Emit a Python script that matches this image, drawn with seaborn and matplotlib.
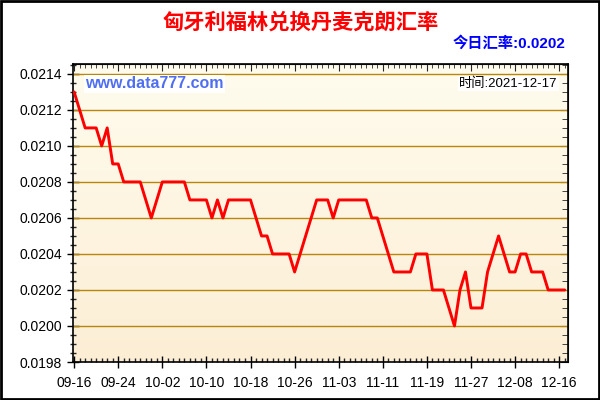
import matplotlib
matplotlib.use('Agg')
import matplotlib.pyplot as plt
import numpy as np
import pandas as pd
import seaborn as sb
from matplotlib.ticker import MultipleLocator, FixedLocator
from matplotlib.patches import Rectangle

# exchange rate HUF -> DKK, one value per day
rates = [0.0213, 0.0212, 0.0211, 0.0211, 0.0211, 0.0210, 0.0211, 0.0209, 0.0209, 0.0208,
         0.0208, 0.0208, 0.0208, 0.0207, 0.0206, 0.0207, 0.0208, 0.0208, 0.0208, 0.0208,
         0.0208, 0.0207, 0.0207, 0.0207, 0.0207, 0.0206, 0.0207, 0.0206, 0.0207, 0.0207,
         0.0207, 0.0207, 0.0207, 0.0206, 0.0205, 0.0205, 0.0204, 0.0204, 0.0204, 0.0204,
         0.0203, 0.0204, 0.0205, 0.0206, 0.0207, 0.0207, 0.0207, 0.0206, 0.0207, 0.0207,
         0.0207, 0.0207, 0.0207, 0.0207, 0.0206, 0.0206, 0.0205, 0.0204, 0.0203, 0.0203,
         0.0203, 0.0203, 0.0204, 0.0204, 0.0204, 0.0202, 0.0202, 0.0202, 0.0201, 0.0200,
         0.0202, 0.0203, 0.0201, 0.0201, 0.0201, 0.0203, 0.0204, 0.0205, 0.0204, 0.0203,
         0.0203, 0.0204, 0.0204, 0.0203, 0.0203, 0.0203, 0.0202, 0.0202, 0.0202, 0.0202]
date_labels = ['09-16', '09-24', '10-02', '10-10', '10-18', '10-26',
               '11-03', '11-11', '11-19', '11-27', '12-08', '12-16']
y_ticks = [0.0198, 0.0200, 0.0202, 0.0204, 0.0206, 0.0208, 0.0210, 0.0212, 0.0214]

title = '匈牙利福林兑换丹麦克朗汇率'
today_rate = '今日汇率:0.0202'
site = 'www.data777.com'
stamp = '时间:2021-12-17'

df = pd.DataFrame({'idx': np.arange(len(rates)), 'rate': rates})
label_pos = np.arange(0, 8 * len(date_labels), 8)

sb.set_style('ticks')
plt.rcParams['font.family'] = ['Liberation Sans', 'Noto Sans CJK SC', 'DejaVu Sans']

fig = plt.figure(figsize=(6, 4), dpi=100, facecolor='white')
ax = fig.add_axes([0.1217, 0.095, 0.825, 0.745])

# cream gradient background of the plot area
top_c = np.array([255, 252, 238]) / 255
bot_c = np.array([252, 238, 213]) / 255
t = np.linspace(0, 1, 200).reshape(-1, 1, 1)
grad = top_c * (1 - t) + bot_c * t
ax.imshow(grad, extent=[0, 1, 0, 1], transform=ax.transAxes,
          aspect='auto', zorder=0, interpolation='bilinear')

for y in y_ticks[1:]:
    ax.axhline(y, color='#B8860B', linewidth=1.0, zorder=1)

sb.lineplot(data=df, x='idx', y='rate', color='#FF0000', linewidth=2.1, ax=ax, zorder=3)

ax.set_xlim(-0.2, 89.6)
ax.set_ylim(0.0198, 0.021455)
ax.set_xlabel('')
ax.set_ylabel('')

ax.xaxis.set_major_locator(FixedLocator(label_pos))
ax.set_xticklabels(date_labels)
ax.xaxis.set_minor_locator(MultipleLocator(1))
ax.yaxis.set_major_locator(FixedLocator(y_ticks))
ax.set_yticklabels([f'{v:.4f}' for v in y_ticks])
ax.yaxis.set_minor_locator(MultipleLocator(0.00005))

ax.tick_params(axis='both', which='major', direction='inout', length=8, width=1,
               labelsize=10, colors='black')
ax.tick_params(axis='x', which='minor', direction='in', length=3, width=1)
ax.tick_params(axis='y', which='minor', direction='inout', length=5, width=1)
ax.tick_params(axis='x', pad=6)
ax.tick_params(axis='y', pad=4)

for s in ax.spines.values():
    s.set_color('black')
    s.set_linewidth(1.2)

# small inward ticks on the top and right frame
sx = ax.secondary_xaxis('top')
sx.xaxis.set_major_locator(FixedLocator(label_pos))
sx.xaxis.set_minor_locator(MultipleLocator(1))
sx.tick_params(which='major', direction='in', length=5, labeltop=False)
sx.tick_params(which='minor', direction='in', length=3)
sy = ax.secondary_yaxis('right')
sy.yaxis.set_major_locator(FixedLocator(y_ticks))
sy.yaxis.set_minor_locator(MultipleLocator(0.00005))
sy.tick_params(which='major', direction='in', length=6, labelright=False)
sy.tick_params(which='minor', direction='in', length=4)

fig.text(0.502, 0.945, title, color='#FF0000', fontsize=15.3, fontweight='bold',
         ha='center', va='center', family=['Noto Sans CJK SC'])
fig.text(0.942, 0.8925, today_rate, color='#0000FF', fontsize=11, fontweight='bold',
         ha='right', va='center')
ax.text(0.025, 0.933, site, transform=ax.transAxes, color='#4F6FF0', fontsize=11.5,
        fontweight='bold', ha='left', va='center', zorder=4,
        bbox=dict(facecolor='white', edgecolor='none', pad=1))
ax.text(0.979, 0.934, stamp, transform=ax.transAxes, color='black',
        fontsize=9.5, ha='right', va='center', zorder=4,
        bbox=dict(facecolor='white', edgecolor='none', pad=1))

fig.patches.append(Rectangle((0.002, 0.003), 0.996, 0.994, transform=fig.transFigure,
                             fill=False, edgecolor='black', linewidth=2))

fig.savefig('out.png', dpi=100)
